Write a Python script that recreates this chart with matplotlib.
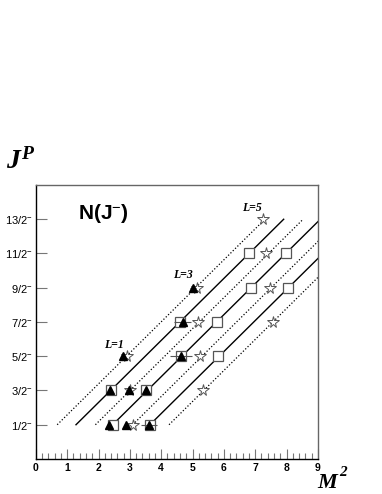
import numpy as np
import matplotlib
matplotlib.use("Agg")
import matplotlib.pyplot as plt
from matplotlib.ticker import MultipleLocator

plt.rcParams['mathtext.fontset'] = 'custom'
plt.rcParams['mathtext.rm'] = 'Liberation Sans'
plt.rcParams['mathtext.it'] = 'Liberation Serif:italic:bold'
plt.rcParams['mathtext.bf'] = 'Liberation Sans:bold'

# triangles (filled), M^2, J, horizontal error
tri_m2 = [2.34, 2.89, 3.62, 2.36, 2.98, 3.51, 2.79, 4.62, 4.68, 5.02]
tri_j = [0.5, 0.5, 0.5, 1.5, 1.5, 1.5, 2.5, 2.5, 3.5, 4.5]
tri_err = [0.0, 0.0, 0.26, 0.0, 0.0, 0.0, 0.0, 0.35, 0.28, 0.1]

# open squares
sq_m2 = [2.45, 3.64, 2.39, 3.51, 4.62, 5.82, 4.60, 5.77, 6.88, 8.05, 6.81, 7.97]
sq_j = [0.5, 0.5, 1.5, 1.5, 2.5, 2.5, 3.5, 3.5, 4.5, 4.5, 5.5, 5.5]

# open stars
st_m2 = [3.09, 3.00, 5.33, 2.90, 5.23, 5.18, 7.57, 5.13, 7.47, 7.36, 7.26]
st_j = [0.5, 1.5, 1.5, 2.5, 2.5, 3.5, 3.5, 4.5, 4.5, 5.5, 6.5]

# trajectories: M^2 at J=1/2, slope dJ/dM^2
traj_start = [0.68, 1.28, 1.90, 2.45, 3.09, 3.64, 4.25]
traj_style = ['dot', 'solid', 'dot', 'solid', 'dot', 'solid', 'dot']
slope = 0.905
j_lo, j_hi = 0.5, 6.5

ytick_vals = [0.5, 1.5, 2.5, 3.5, 4.5, 5.5, 6.5]
ytick_txt = ["1/2", "3/2", "5/2", "7/2", "9/2", "11/2", "13/2"]

lbl_txt = ["L=1", "L=3", "L=5"]
lbl_m2 = [2.49, 4.70, 6.90]
lbl_j = [2.82, 4.86, 6.84]

fig = plt.figure(figsize=(3.82, 4.94), dpi=100)
ax = fig.add_axes([0.094, 0.0709, 0.738, 0.5546])

for x0, s in zip(traj_start, traj_style):
    jj = np.array([j_lo, j_hi])
    xx = x0 + (jj - j_lo) / slope
    if s == 'solid':
        ax.plot(xx, jj, color='black', lw=1.0, zorder=1)
    else:
        ax.plot(xx, jj, color='black', lw=0.9, ls=(0, (1, 1.6)), zorder=1)

ax.plot(sq_m2, sq_j, ls='none', marker='s', ms=7.2, mfc='white', mec='#555555',
        mew=0.9, zorder=2)
ax.plot(st_m2, st_j, ls='none', marker='*', ms=8.5, mfc='white', mec='#555555',
        mew=0.7, zorder=3)
ax.errorbar(tri_m2, tri_j, xerr=tri_err, ls='none', marker='^', ms=6,
            color='black', ecolor='#555555', elinewidth=0.8, capsize=0, zorder=4)

for t, x, y in zip(lbl_txt, lbl_m2, lbl_j):
    ax.text(x, y, t, fontsize=8.5, family='Liberation Serif', style='italic',
            weight='bold', ha='center', va='center')

ax.text(0.24, 0.895, r"$\mathbf{N(J}^{-}\mathbf{)}$", transform=ax.transAxes,
        fontsize=15, ha='center', va='center')

ax.set_xlim(0, 9)
ax.set_ylim(-0.5, 7.5)
ax.xaxis.set_major_locator(MultipleLocator(1))
ax.xaxis.set_minor_locator(MultipleLocator(0.2))
ax.set_yticks(ytick_vals, [t + r"$^{-}$" for t in ytick_txt])
ax.tick_params(axis='x', which='major', direction='in', length=7, width=0.8,
               color='#777777', labelsize=7.5, pad=3)
ax.tick_params(axis='x', which='minor', direction='in', length=4, width=0.8,
               color='#777777')
ax.tick_params(axis='y', which='major', direction='in', length=8, width=0.8,
               color='#777777', labelsize=8, pad=2)
for lab in ax.get_xticklabels():
    lab.set_fontweight('bold')
    lab.set_family('Liberation Sans')
for lab in ax.get_yticklabels():
    lab.set_family('Liberation Sans')

for side in ['left', 'bottom']:
    ax.spines[side].set_color('black')
    ax.spines[side].set_linewidth(1.0)
for side in ['top', 'right']:
    ax.spines[side].set_color('#666666')
    ax.spines[side].set_linewidth(1.0)

fig.text(0.055, 0.675, r"$J^P$", fontsize=20, ha='center', va='center')
fig.text(0.856, 0.022, "M", fontsize=16, family='Liberation Serif',
         style='italic', weight='bold', ha='center', va='center')
fig.text(0.897, 0.044, "2", fontsize=11, family='Liberation Serif',
         style='italic', weight='bold', ha='center', va='center')

fig.savefig("out.png", dpi=100)
